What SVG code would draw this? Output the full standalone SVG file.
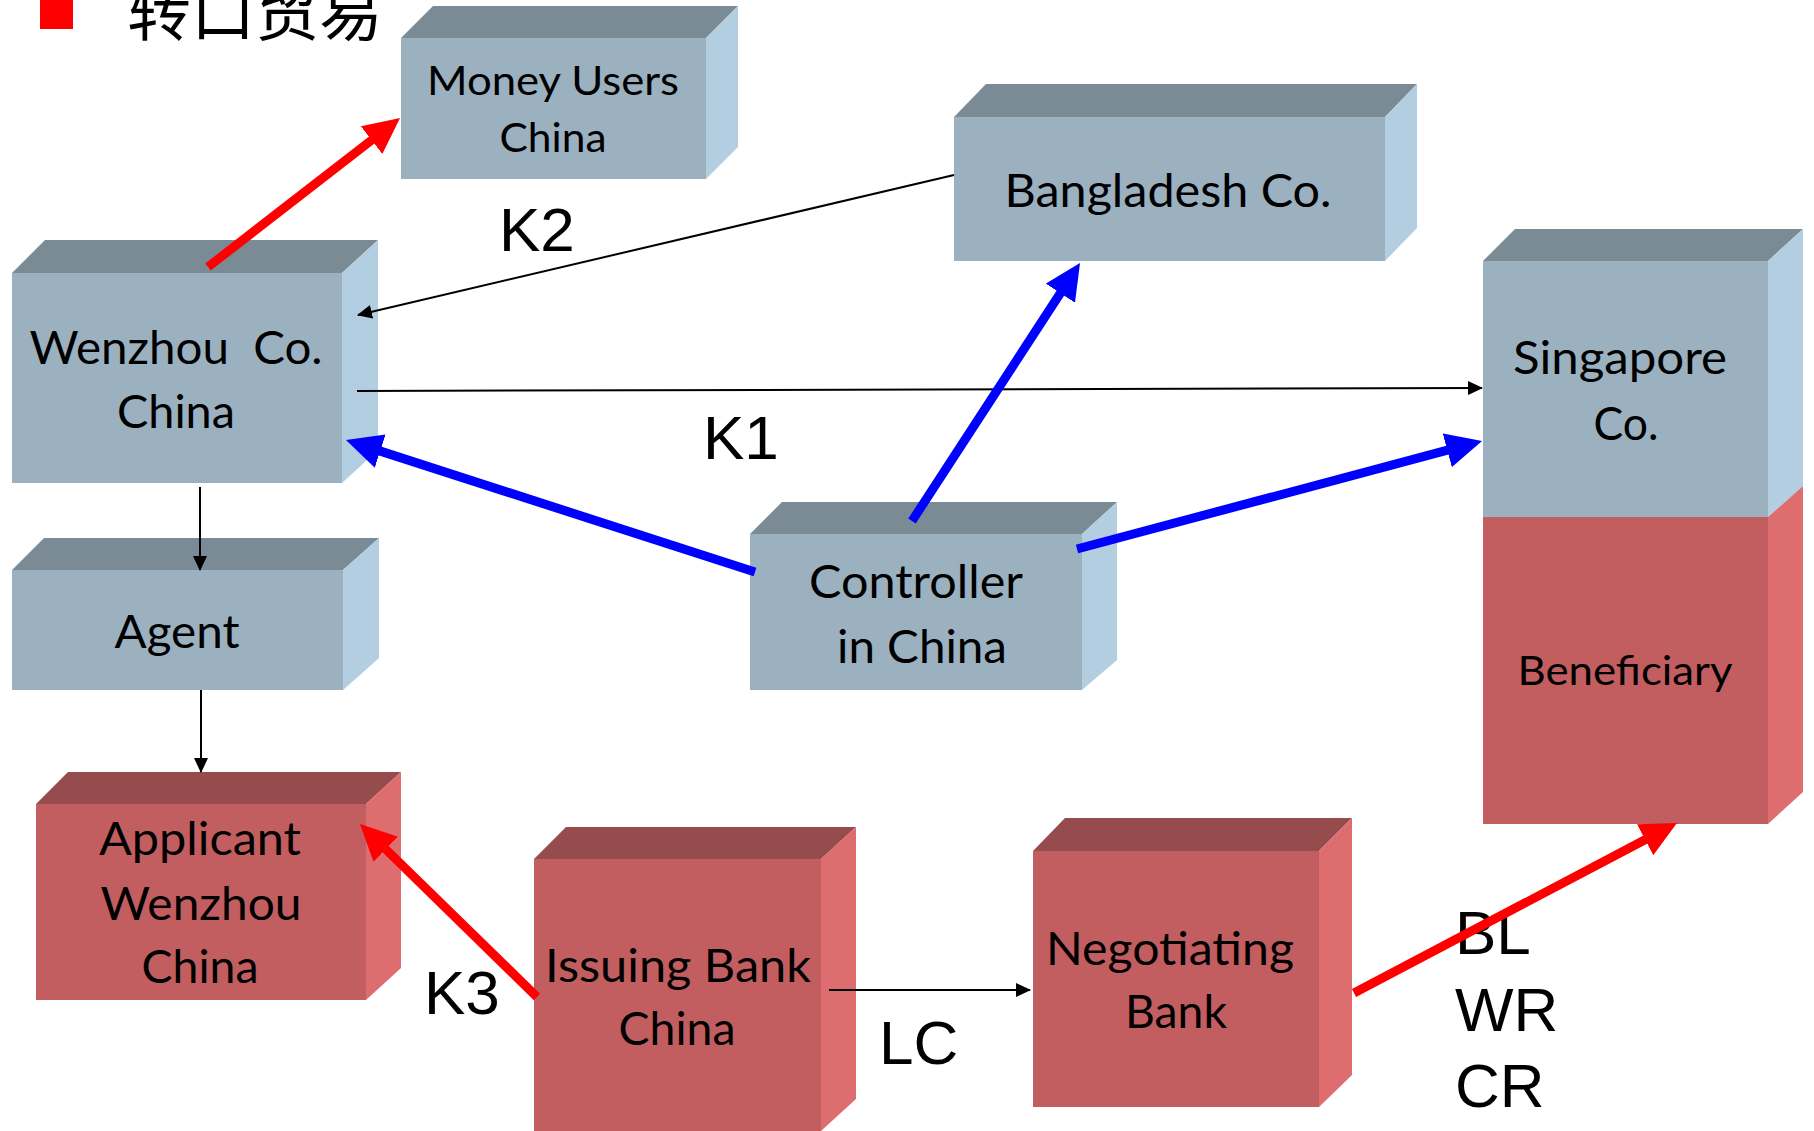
<svg xmlns="http://www.w3.org/2000/svg" width="1814" height="1131" viewBox="0 0 1814 1131">
<style>
.bt{fill:#7A8B96}.bf{fill:#9BB1C0}.bs{fill:#B3CEE0}
.rt{fill:#964C4D}.rf{fill:#C25E60}.rs{fill:#DE6D70}
.nt{font-family:Lato,"Open Sans",sans-serif;font-size:46px;fill:#000;text-anchor:middle}
.ns{font-size:40px}
.lb{font-family:"Liberation Sans",Arial,sans-serif;font-size:62px;fill:#000}
.thin{stroke:#000;stroke-width:2;fill:none;marker-end:url(#ahk)}
.red{stroke:#FF0000;stroke-width:9;fill:none;marker-end:url(#ahr)}
.blue{stroke:#0000FF;stroke-width:9;fill:none;marker-end:url(#ahb)}
</style>
<defs>
<marker id="ahk" markerUnits="userSpaceOnUse" viewBox="0 0 15 14" markerWidth="15" markerHeight="14" refX="14" refY="7" orient="auto"><path d="M0,0 L15,7 L0,14 z" fill="#000"/></marker>
<marker id="ahr" markerUnits="userSpaceOnUse" viewBox="0 0 36 35" markerWidth="36" markerHeight="35" refX="8" refY="17.5" orient="auto"><path d="M0,0 L36,17.5 L0,35 z" fill="#FF0000"/></marker>
<marker id="ahb" markerUnits="userSpaceOnUse" viewBox="0 0 36 35" markerWidth="36" markerHeight="35" refX="8" refY="17.5" orient="auto"><path d="M0,0 L36,17.5 L0,35 z" fill="#0000FF"/></marker>
</defs>
<rect width="1814" height="1131" fill="#fff"/>
<g id="title">
<rect x="40" y="-4" width="33" height="33" fill="#FF0000"/>
<text x="127" y="35" font-family="'Noto Sans CJK SC',sans-serif" font-size="64" fill="#000">转口贸易</text>
</g>
<g id="money-users">
<polygon class="bt" points="401,38 433,6 738,6 706,38"/>
<polygon class="bs" points="706,38 738,6 738,147 706,179"/>
<rect class="bf" x="401" y="38" width="305" height="141"/>
<text class="nt ns" x="553" y="95" textLength="252" lengthAdjust="spacingAndGlyphs">Money Users</text>
<text class="nt ns" x="553" y="152" textLength="107" lengthAdjust="spacingAndGlyphs">China</text>
</g>
<g id="bangladesh">
<polygon class="bt" points="954,117 986,84 1417,84 1385,117"/>
<polygon class="bs" points="1385,117 1417,84 1417,228 1385,261"/>
<rect class="bf" x="954" y="117" width="431" height="144"/>
<text class="nt" x="1168" y="207" textLength="327" lengthAdjust="spacingAndGlyphs">Bangladesh Co.</text>
</g>
<g id="wenzhou">
<polygon class="bt" points="12,273 45,240 378,240 342,273"/>
<polygon class="bs" points="342,273 378,240 378,450 342,483"/>
<rect class="bf" x="12" y="273" width="330" height="210"/>
<text class="nt" x="176" y="364" textLength="293" lengthAdjust="spacingAndGlyphs" xml:space="preserve">Wenzhou  Co.</text>
<text class="nt" x="176" y="428" textLength="118" lengthAdjust="spacingAndGlyphs">China</text>
</g>
<g id="agent">
<polygon class="bt" points="12,570 44,538 379,538 343,570"/>
<polygon class="bs" points="343,570 379,538 379,658 343,690"/>
<rect class="bf" x="12" y="570" width="331" height="120"/>
<text class="nt" x="177" y="648" textLength="125" lengthAdjust="spacingAndGlyphs">Agent</text>
</g>
<g id="controller">
<polygon class="bt" points="750,534 782,502 1117,502 1082,534"/>
<polygon class="bs" points="1082,534 1117,502 1117,660 1082,690"/>
<rect class="bf" x="750" y="534" width="332" height="156"/>
<text class="nt" x="916" y="598" textLength="214" lengthAdjust="spacingAndGlyphs">Controller</text>
<text class="nt" x="922" y="663" textLength="170" lengthAdjust="spacingAndGlyphs">in China</text>
</g>
<g id="singapore">
<polygon class="bt" points="1483,261 1515,229 1803,229 1768,261"/>
<polygon class="bs" points="1768,261 1803,229 1803,486 1768,517"/>
<rect class="bf" x="1483" y="261" width="285" height="256"/>
<text class="nt" x="1620" y="374" textLength="214" lengthAdjust="spacingAndGlyphs">Singapore</text>
<text class="nt" x="1626" y="440" textLength="65" lengthAdjust="spacingAndGlyphs">Co.</text>
</g>
<g id="beneficiary">
<polygon class="rs" points="1768,517 1803,486 1803,792 1768,824"/>
<rect class="rf" x="1483" y="517" width="285" height="307"/>
<text class="nt ns" x="1625" y="685" textLength="215" lengthAdjust="spacingAndGlyphs">Beneficiary</text>
</g>
<g id="applicant">
<polygon class="rt" points="36,804 68,772 401,772 366,804"/>
<polygon class="rs" points="366,804 401,772 401,968 366,1000"/>
<rect class="rf" x="36" y="804" width="330" height="196"/>
<text class="nt" x="200" y="855" textLength="202" lengthAdjust="spacingAndGlyphs">Applicant</text>
<text class="nt" x="201" y="920" textLength="201" lengthAdjust="spacingAndGlyphs">Wenzhou</text>
<text class="nt" x="200" y="983" textLength="117" lengthAdjust="spacingAndGlyphs">China</text>
</g>
<g id="issuing-bank">
<polygon class="rt" points="534,859 566,827 856,827 821,859"/>
<polygon class="rs" points="821,859 856,827 856,1099 821,1131"/>
<rect class="rf" x="534" y="859" width="287" height="272"/>
<text class="nt" x="678" y="982" textLength="266" lengthAdjust="spacingAndGlyphs">Issuing Bank</text>
<text class="nt" x="677" y="1045" textLength="117" lengthAdjust="spacingAndGlyphs">China</text>
</g>
<g id="negotiating-bank">
<polygon class="rt" points="1033,851 1065,818 1352,818 1319,851"/>
<polygon class="rs" points="1319,851 1352,818 1352,1075 1319,1107"/>
<rect class="rf" x="1033" y="851" width="286" height="256"/>
<text class="nt" x="1170" y="965" textLength="248" lengthAdjust="spacingAndGlyphs">Negotiating</text>
<text class="nt" x="1176" y="1028" textLength="102" lengthAdjust="spacingAndGlyphs">Bank</text>
</g>
<g id="labels">
<text class="lb" x="499" y="251">K2</text>
<text class="lb" x="703" y="459">K1</text>
<text class="lb" x="424" y="1014">K3</text>
<text class="lb" x="879" y="1064">LC</text>
<text class="lb" x="1455" y="954">BL</text>
<text class="lb" x="1455" y="1031">WR</text>
<text class="lb" x="1455" y="1107">CR</text>
</g>
<g id="connectors">
<line class="thin" x1="954" y1="175" x2="358" y2="315"/>
<line class="thin" x1="357" y1="391" x2="1482" y2="388"/>
<line class="thin" x1="200" y1="487" x2="200" y2="570"/>
<line class="thin" x1="201" y1="690" x2="201" y2="772"/>
<line class="thin" x1="829" y1="990" x2="1030" y2="990"/>
<line class="red" x1="208" y1="267" x2="377.9" y2="135.2"/>
<line class="red" x1="537" y1="997" x2="380" y2="843.6"/>
<line class="red" x1="1354" y1="993" x2="1652.2" y2="836"/>
<line class="blue" x1="755" y1="572" x2="372.6" y2="448.6"/>
<line class="blue" x1="912" y1="521" x2="1064.7" y2="286.5"/>
<line class="blue" x1="1077" y1="549" x2="1455" y2="448.2"/>
</g>
</svg>
